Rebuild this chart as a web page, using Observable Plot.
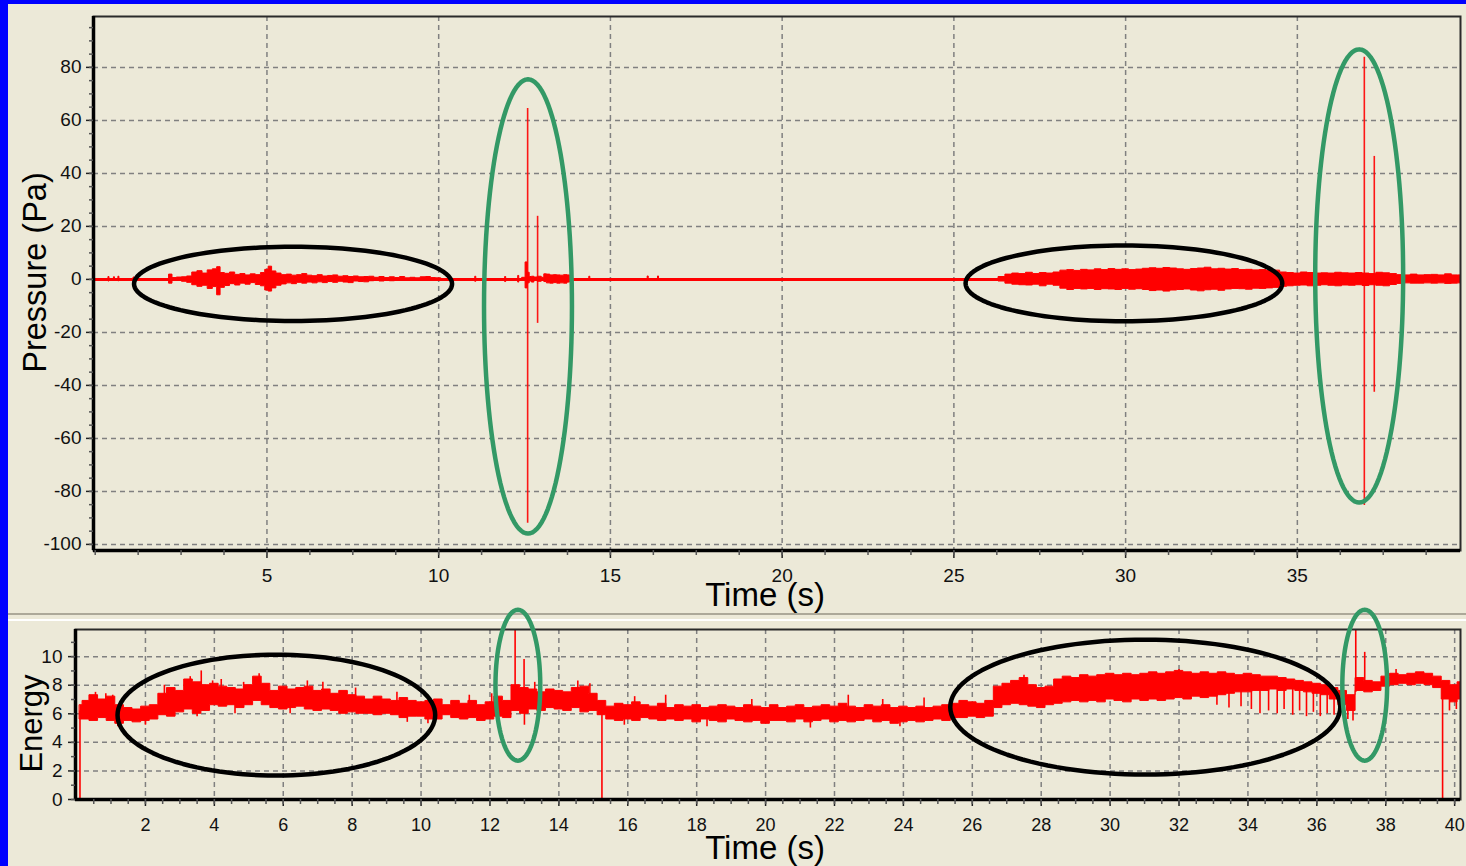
<!DOCTYPE html>
<html><head><meta charset="utf-8">
<script src="https://cdn.jsdelivr.net/npm/d3@7"></script>
<script src="https://cdn.jsdelivr.net/npm/@observablehq/plot@0.6"></script>
<style>
html,body{margin:0;padding:0;background:#0000ff;}
#page{position:relative;width:1466px;height:866px;background:#0000ff;overflow:hidden;font-family:"Liberation Sans",Arial,sans-serif;}
#panel{position:absolute;left:8px;top:4px;right:0;bottom:0;background:#ece9d8;}
#sep1{position:absolute;left:8px;right:0;top:613px;height:2px;background:#aca899;}
#sep2{position:absolute;left:8px;right:0;top:619px;height:2px;background:#ffffff;}
#c1{position:absolute;left:0;top:0;}
#c2{position:absolute;left:0;top:600px;}
</style></head>
<body><div id="page"><div id="panel"></div><div id="sep1"></div><div id="sep2"></div><div id="c1"></div><div id="c2"></div></div>
<script>
// ---------- Top panel: Pressure (Pa) ----------
const topXTicks = [5, 10, 15, 20, 25, 30, 35];
const topYTicks = [-100, -80, -60, -40, -20, 0, 20, 40, 60, 80];
const topXDomain = [-0.05, 39.75];
const topYDomain = [-102.3, 99.2];

// noise envelope of the pressure trace
const pTime = [0, 0.37, 0.4, 0.43, 0.53, 0.56, 0.59, 0.66, 0.69, 0.72, 1.1, 1.13, 1.16,
  2.1, 2.2, 2.3, 2.45, 2.6, 2.75, 2.9, 3.05, 3.2, 3.35, 3.5, 3.6, 3.7, 3.85, 4.0, 4.15, 4.3, 4.45, 4.6, 4.75, 4.9, 5.0, 5.1, 5.2, 5.35, 5.5, 5.65, 5.8, 5.95, 6.1, 6.25, 6.4, 6.55, 6.7, 6.85, 7.0, 7.15, 7.3, 7.45, 7.6, 7.75, 7.9, 8.05, 8.2, 8.35, 8.5, 8.65, 8.8, 8.95, 9.1, 9.25, 9.4, 9.55, 9.7, 9.85, 10.0, 10.15,
  11.05, 11.08, 11.11, 11.92, 11.95, 11.98, 12.3, 12.33, 12.36,
  12.5, 12.56, 12.62, 12.68, 12.75, 12.82, 12.95, 13.05, 13.1, 13.2, 13.3, 13.4, 13.5, 13.6, 13.7, 13.8, 13.85,
  14.37, 14.4, 14.43, 16.07, 16.1, 16.13, 16.37, 16.4, 16.43,
  26.2, 26.4, 26.6, 26.8, 27.0, 27.2, 27.4, 27.6, 27.8, 28.0, 28.2, 28.4, 28.6, 28.8, 29.0, 29.2, 29.4, 29.6, 29.8, 30.0, 30.2, 30.4, 30.6, 30.8, 31.0, 31.2, 31.4, 31.6, 31.8, 32.0, 32.2, 32.4, 32.6, 32.8, 33.0, 33.2, 33.4, 33.6, 33.8, 34.0, 34.2, 34.4, 34.6, 34.8, 35.0, 35.2, 35.4, 35.6, 35.8, 36.0, 36.2, 36.4, 36.6, 36.8, 37.0, 37.2, 37.4, 37.6, 37.8, 38.0, 38.2, 38.4, 38.6, 38.8, 39.0, 39.2, 39.4, 39.6, 39.75];
const pLow = [0, 0, -0.8, 0, 0, -0.6, 0, 0, -0.7, 0, 0, -0.5, 0,
  0, -1.6, -0.6, -0.5, -0.9, -1.3, -2.2, -2.8, -2.4, -3.6, -2.9, -6.0, -3.2, -2.5, -1.8, -2.3, -1.6, -2.0, -1.4, -2.1, -2.6, -4.2, -4.6, -3.4, -2.4, -1.9, -1.5, -1.8, -1.3, -1.6, -1.2, -1.5, -1.1, -1.4, -1.0, -1.3, -0.9, -1.2, -1.4, -0.8, -1.0, -1.1, -0.7, -0.6, -0.8, -0.5, -0.7, -0.4, -0.5, -0.4, -0.5, -0.3, -0.6, -0.4, -0.5, -0.3, 0,
  0, -0.9, 0, 0, -1.0, 0, 0, -1.2, 0,
  -0.5, -3.4, -1.5, -0.8, -1.2, -0.6, -0.9, -0.5, -1.0, -1.5, -1.6, -1.4, -1.6, -1.5, -1.6, -1.2, 0,
  0, 0, 0, 0, 0, 0, 0, 0, 0,
  0, -0.8, -1.6, -2.0, -2.2, -2.3, -2.0, -2.6, -2.0, -2.4, -3.5, -4.0, -3.6, -3.8, -3.6, -4.0, -3.7, -3.8, -4.0, -3.6, -3.9, -3.7, -4.0, -4.4, -4.2, -4.6, -4.2, -4.0, -3.8, -4.2, -4.5, -4.1, -3.9, -4.3, -3.8, -3.6, -3.7, -3.9, -3.5, -3.6, -3.4, -3.2, -2.8, -2.6, -2.4, -2.3, -2.6, -2.4, -2.2, -2.4, -2.6, -2.3, -2.4, -2.2, -2.5, -2.2, -2.4, -2.6, -2.1, -1.7, -1.5, -1.6, -1.6, -1.5, -1.6, -1.5, -1.7, -1.6, -1.5];
const pHigh = [0, 0, 0.9, 0, 0, 0.8, 0, 0, 1.0, 0, 0, 0.7, 0,
  0, 1.8, 0.5, 0.7, 0.8, 1.1, 2.6, 3.1, 2.2, 3.4, 3.8, 4.6, 2.4, 2.1, 2.6, 1.7, 2.0, 1.5, 1.9, 1.6, 2.4, 3.6, 4.8, 3.0, 2.2, 1.6, 1.8, 1.4, 1.6, 2.0, 1.4, 1.2, 1.6, 1.1, 1.3, 1.5, 1.0, 1.2, 0.9, 1.1, 0.8, 0.9, 1.0, 0.6, 0.9, 0.5, 0.8, 0.5, 0.9, 0.4, 0.6, 0.4, 0.8, 0.9, 0.5, 0.4, 0,
  0, 1.0, 0, 0, 0.9, 0, 0, 1.3, 0,
  0.6, 6.4, 2.5, 0.9, 1.0, 0.7, 1.0, 0.6, 1.9, 1.8, 1.5, 1.6, 1.5, 1.4, 1.6, 1.5, 0,
  0, 1.0, 0, 0, 1.1, 0, 0, 1.1, 0,
  0, 0.9, 1.8, 2.2, 2.0, 2.5, 2.0, 2.4, 2.2, 2.6, 3.3, 3.5, 3.2, 3.6, 3.4, 3.8, 3.5, 3.9, 3.6, 3.8, 3.5, 3.7, 4.0, 4.2, 4.0, 4.3, 4.1, 3.8, 3.6, 3.9, 4.1, 4.4, 3.8, 4.0, 3.7, 3.9, 3.5, 3.6, 3.4, 3.5, 3.2, 3.3, 2.6, 2.4, 2.2, 2.6, 2.4, 2.2, 2.3, 2.2, 2.5, 2.3, 2.2, 2.4, 2.2, 2.0, 2.5, 2.3, 2.0, 1.6, 1.5, 1.8, 1.5, 1.6, 1.7, 1.5, 1.9, 1.5, 1.5];

// impulse spikes in the pressure trace
const pSpikeTime = [12.59, 12.88, 36.95, 37.24];
const pSpikeLow = [-92, -16.6, -85.3, -42.6];
const pSpikeHigh = [64.5, 23.8, 83.8, 46.4];

// annotation ellipses (data units: centre, radii)
const topEllCx = [5.76, 12.6, 29.95, 36.8];
const topEllCy = [-1.7, -10.2, -1.5, 1.3];
const topEllRx = [4.63, 1.28, 4.61, 1.28];
const topEllRy = [14.0, 85.7, 14.3, 85.5];
const topEllColor = ["#000000", "#339966", "#000000", "#339966"];

// ---------- Bottom panel: Energy ----------
const botXTicks = [2, 4, 6, 8, 10, 12, 14, 16, 18, 20, 22, 24, 26, 28, 30, 32, 34, 36, 38, 40];
const botYTicks = [0, 2, 4, 6, 8, 10];
const botXDomain = [-0.03, 40.17];
const botYDomain = [0, 11.9];

const eTime = [0.1, 0.25, 0.5, 0.75, 1.0, 1.25, 1.5, 1.75, 2.0, 2.25, 2.5, 2.75, 3.0, 3.25, 3.5, 3.75, 4.0, 4.25, 4.5, 4.75, 5.0, 5.25, 5.5, 5.75, 6.0, 6.25, 6.5, 6.75, 7.0, 7.25, 7.5, 7.75, 8.0, 8.25, 8.5, 8.75, 9.0, 9.25, 9.5, 9.75, 10.0, 10.25, 10.5, 10.75, 11.0, 11.25, 11.5, 11.75, 12.0, 12.25, 12.5, 12.75, 13.0, 13.25, 13.5, 13.75, 14.0, 14.25, 14.5, 14.75, 15.0, 15.25, 15.5, 15.75, 16.0, 16.25, 16.5, 16.75, 17.0, 17.25, 17.5, 17.75, 18.0, 18.25, 18.5, 18.75, 19.0, 19.25, 19.5, 19.75, 20.0, 20.25, 20.5, 20.75, 21.0, 21.25, 21.5, 21.75, 22.0, 22.25, 22.5, 22.75, 23.0, 23.25, 23.5, 23.75, 24.0, 24.25, 24.5, 24.75, 25.0, 25.25, 25.5, 25.75, 26.0, 26.25, 26.5, 26.75, 27.0, 27.25, 27.5, 27.75, 28.0, 28.25, 28.5, 28.75, 29.0, 29.25, 29.5, 29.75, 30.0, 30.25, 30.5, 30.75, 31.0, 31.25, 31.5, 31.75, 32.0, 32.25, 32.5, 32.75, 33.0, 33.25, 33.5, 33.75, 34.0, 34.25, 34.5, 34.75, 35.0, 35.25, 35.5, 35.75, 36.0, 36.25, 36.5, 36.75, 37.0, 37.25, 37.5, 37.75, 38.0, 38.25, 38.5, 38.75, 39.0, 39.25, 39.5, 39.75, 40.0, 40.17];
const eLow = [5.6, 5.6, 5.5, 5.7, 5.5, 5.3, 5.5, 5.4, 5.5, 5.6, 5.9, 5.8, 6.1, 6.3, 6.0, 6.2, 6.6, 6.5, 6.6, 6.4, 6.6, 6.9, 6.6, 6.4, 6.3, 6.4, 6.5, 6.3, 6.2, 6.3, 6.2, 6.0, 6.1, 6.0, 6.0, 5.9, 6.0, 5.9, 5.7, 5.8, 5.8, 5.6, 5.6, 5.9, 5.7, 5.6, 5.7, 5.5, 5.6, 5.8, 5.7, 6.2, 6.0, 6.3, 6.2, 6.4, 6.3, 6.2, 6.4, 6.1, 6.2, 5.9, 5.6, 5.5, 5.6, 5.5, 5.7, 5.6, 5.5, 5.6, 5.5, 5.6, 5.4, 5.6, 5.5, 5.4, 5.6, 5.5, 5.4, 5.5, 5.3, 5.5, 5.5, 5.4, 5.6, 5.4, 5.5, 5.6, 5.4, 5.5, 5.4, 5.5, 5.6, 5.4, 5.5, 5.3, 5.4, 5.5, 5.4, 5.5, 5.6, 5.5, 5.7, 5.7, 5.8, 5.7, 5.8, 6.4, 6.6, 6.7, 6.6, 6.5, 6.4, 6.6, 6.7, 6.8, 6.9, 6.8, 6.9, 6.8, 7.0, 6.9, 6.8, 7.0, 6.9, 7.0, 6.9, 7.0, 7.1, 7.0, 7.2, 7.1, 7.2, 7.3, 7.4, 7.5, 7.5, 7.6, 7.6, 7.7, 7.6, 7.7, 7.6, 7.5, 7.4, 7.3, 7.0, 6.6, 6.2, 7.6, 7.5, 7.6, 7.9, 8.0, 8.1, 8.0, 8.1, 8.0, 7.8, 7.0, 6.8, 7.0];
const eHigh = [6.6, 6.9, 7.3, 7.0, 7.2, 6.6, 6.4, 6.3, 6.5, 6.6, 7.4, 7.8, 7.6, 8.4, 8.2, 8.0, 8.1, 7.9, 7.8, 7.7, 8.0, 8.6, 8.1, 7.6, 7.9, 7.7, 7.8, 7.9, 7.6, 7.7, 7.4, 7.6, 7.3, 7.2, 7.0, 7.2, 7.0, 6.9, 7.1, 6.9, 6.8, 6.9, 7.0, 6.6, 6.9, 6.7, 6.9, 6.6, 6.8, 7.2, 6.9, 8.0, 7.8, 7.7, 7.5, 7.7, 7.6, 7.5, 7.8, 7.9, 7.4, 6.9, 6.5, 6.7, 6.6, 6.8, 6.6, 6.5, 6.7, 6.4, 6.6, 6.5, 6.6, 6.4, 6.5, 6.6, 6.5, 6.4, 6.6, 6.5, 6.4, 6.6, 6.4, 6.5, 6.6, 6.4, 6.5, 6.6, 6.5, 6.7, 6.5, 6.4, 6.6, 6.5, 6.6, 6.4, 6.5, 6.4, 6.5, 6.4, 6.5, 6.6, 6.7, 6.9, 6.8, 6.7, 6.9, 7.9, 8.1, 8.3, 8.5, 8.0, 7.8, 7.9, 8.4, 8.6, 8.5, 8.7, 8.6, 8.7, 8.8, 8.7, 8.8, 8.7, 8.8, 8.9, 8.8, 8.9, 9.0, 8.9, 8.8, 8.9, 8.8, 8.9, 8.8, 8.7, 8.8, 8.7, 8.6, 8.6, 8.5, 8.4, 8.3, 8.2, 8.1, 8.0, 7.8, 7.6, 7.3, 8.5, 8.3, 8.2, 8.6, 8.8, 8.7, 8.8, 8.9, 8.8, 8.6, 8.3, 8.0, 8.2];

// whiskers / outliers in the energy trace
const eSpikeTime = [0.1, 12.73, 12.99, 15.25, 37.13, 37.39, 39.65,
  0.55, 0.85, 1.05, 2.55, 3.3, 3.62, 3.95, 4.2, 4.85, 5.3, 6.7, 7.15, 8.1, 9.3, 11.4, 12.05, 13.3, 14.55, 14.9, 16.2, 17.1, 19.6, 22.4, 23.4, 24.6, 27.5, 32.0, 38.3,
  1.2, 2.0, 3.5, 4.6, 6.2, 9.6, 10.2, 13.0, 13.4, 15.9, 18.3, 21.3, 23.9, 33.1, 33.45, 33.8, 34.1, 34.35, 34.6, 34.85, 35.05, 35.3, 35.5, 35.7, 35.9, 36.1, 36.3, 36.5, 36.9, 37.05, 39.85, 40.05];
const eSpikeBase = [0, 7.0, 7.0, 6.5, 7.5, 8.0, 8.2,
  6.5, 6.5, 6.5, 7.0, 7.5, 7.5, 7.5, 7.5, 7.5, 7.8, 7.2, 7.0, 6.8, 6.5, 6.3, 6.3, 7.2, 7.3, 7.3, 6.2, 6.2, 6.2, 6.2, 6.2, 6.1, 7.8, 8.3, 8.5,
  6.0, 6.0, 6.6, 7.0, 7.0, 6.2, 6.2, 6.8, 6.8, 6.0, 6.0, 6.0, 6.0, 7.8, 7.8, 8.0, 8.0, 8.0, 8.0, 8.0, 8.0, 8.0, 8.0, 7.9, 7.8, 7.7, 7.6, 7.4, 7.0, 7.0, 7.5, 7.5];
const eSpikeTip = [6.2, 11.9, 9.8, 0, 11.9, 10.3, 0,
  7.5, 7.4, 7.3, 8.0, 8.6, 9.0, 8.3, 8.4, 8.2, 8.8, 8.3, 8.2, 7.8, 7.5, 7.3, 7.4, 8.2, 8.3, 8.1, 7.2, 7.3, 7.0, 7.3, 7.0, 7.1, 8.7, 9.1, 9.1,
  5.1, 5.2, 5.8, 6.0, 6.0, 5.4, 5.3, 5.2, 5.4, 5.2, 5.1, 5.0, 5.1, 6.6, 6.4, 6.5, 6.3, 6.0, 6.2, 6.0, 6.3, 5.9, 6.2, 5.8, 6.1, 5.8, 6.0, 5.9, 5.6, 5.5, 6.2, 6.3];

const botEllCx = [5.8, 12.81, 31.02, 37.39];
const botEllCy = [5.91, 8.0, 6.47, 8.0];
const botEllRx = [4.61, 0.65, 5.66, 0.65];
const botEllRy = [4.23, 5.28, 4.72, 5.28];
const botEllColor = ["#000000", "#339966", "#000000", "#339966"];

// ---------- helpers ----------
const RED = "#ff0000";
const GRID = {stroke: "#808080", strokeOpacity: 1, strokeWidth: 1.5, strokeDasharray: "5,4"};
const FONT = "'Liberation Sans', Arial, sans-serif";

function ellipseMarks(cx, cy, rx, ry, colors) {
  return cx.map((c, i) => {
    const pts = d3.range(0, 361, 3).map(a => ({
      x: c + rx[i] * Math.cos(a * Math.PI / 180),
      y: cy[i] + ry[i] * Math.sin(a * Math.PI / 180)
    }));
    return Plot.line(pts, {x: "x", y: "y", stroke: colors[i], strokeWidth: 4.5, curve: "linear"});
  });
}
const fmt = d => String(d);

// ---------- top chart ----------
const chart1 = Plot.plot({
  width: 1466, height: 610,
  marginLeft: 93, marginRight: 6, marginTop: 16, marginBottom: 60,
  style: {background: "transparent", overflow: "visible", fontFamily: FONT, fontSize: "19px", color: "#111"},
  x: {domain: topXDomain},
  y: {domain: topYDomain},
  marks: [
    Plot.gridX({ticks: topXTicks, ...GRID}),
    Plot.gridY({ticks: topYTicks, ...GRID}),
    Plot.ruleY([0], {stroke: RED, strokeWidth: 3}),
    Plot.areaY(pTime, {x: pTime, y1: pLow, y2: pHigh, fill: RED, stroke: RED, strokeWidth: 1, curve: "step"}),
    Plot.ruleX(pSpikeTime, {x: pSpikeTime, y1: pSpikeLow, y2: pSpikeHigh, stroke: RED, strokeWidth: 1.6, strokeOpacity: 0.9}),
    Plot.frame({stroke: "#2a2a2a", strokeWidth: 2}),
    Plot.ruleX([topXDomain[0]], {stroke: "#000", strokeWidth: 3.5}),
    Plot.ruleY([topYDomain[0]], {stroke: "#000", strokeWidth: 3.5}),
    Plot.axisX({ticks: topXTicks, tickSize: 8, tickPadding: 10, tickFormat: fmt, label: null, fontSize: 19, stroke: "#222", strokeWidth: 1.5}),
    Plot.axisX({ticks: d3.range(0, 39.8, 1.25), tickSize: 5, fill: "none", label: null, stroke: "#555", strokeWidth: 1.5}),
    Plot.axisY({ticks: topYTicks, tickSize: 7, tickPadding: 5, tickFormat: fmt, label: null, fontSize: 19, stroke: "#222", strokeWidth: 1.5}),
    Plot.axisY({ticks: d3.range(-100, 99, 5), tickSize: 4, fill: "none", label: null, stroke: "#555", strokeWidth: 1.5}),
    ...ellipseMarks(topEllCx, topEllCy, topEllRx, topEllRy, topEllColor),
    Plot.text(["Time (s)"], {frameAnchor: "bottom", dx: -12, dy: 45, fontSize: 33, lineAnchor: "middle", textAnchor: "middle", fill: "#000"}),
    Plot.text(["Pressure (Pa)"], {frameAnchor: "left", rotate: -90, dx: -58, dy: -11, fontSize: 32.5, lineAnchor: "middle", textAnchor: "middle", fill: "#000"})
  ]
});
document.getElementById("c1").appendChild(chart1);

// ---------- bottom chart ----------
const chart2 = Plot.plot({
  width: 1466, height: 266,
  marginLeft: 75, marginRight: 6, marginTop: 29, marginBottom: 67,
  style: {background: "transparent", overflow: "visible", fontFamily: FONT, fontSize: "18px", color: "#111"},
  x: {domain: botXDomain},
  y: {domain: botYDomain},
  marks: [
    Plot.gridX({ticks: botXTicks, ...GRID}),
    Plot.gridY({ticks: botYTicks, ...GRID}),
    Plot.areaY(eTime, {x: eTime, y1: eLow, y2: eHigh, fill: RED, stroke: RED, strokeWidth: 1, curve: "step"}),
    Plot.ruleX(eSpikeTime, {x: eSpikeTime, y1: eSpikeBase, y2: eSpikeTip, stroke: RED, strokeWidth: 1.6}),
    Plot.frame({stroke: "#2a2a2a", strokeWidth: 2}),
    Plot.ruleX([botXDomain[0]], {stroke: "#000", strokeWidth: 3.5}),
    Plot.ruleY([botYDomain[0]], {stroke: "#000", strokeWidth: 3.5}),
    Plot.axisX({ticks: botXTicks, tickSize: 7, tickPadding: 12, tickFormat: fmt, label: null, fontSize: 18, stroke: "#222", strokeWidth: 1.5}),
    Plot.axisX({ticks: d3.range(0.5, 40.2, 0.5), tickSize: 5, fill: "none", label: null, stroke: "#555", strokeWidth: 1.5}),
    Plot.axisY({ticks: botYTicks, tickSize: 7, tickPadding: 6, tickFormat: fmt, label: null, fontSize: 19, stroke: "#222", strokeWidth: 1.5}),
    Plot.axisY({ticks: d3.range(0, 12, 1), tickSize: 4, fill: "none", label: null, stroke: "#555", strokeWidth: 1.5}),
    ...ellipseMarks(botEllCx, botEllCy, botEllRx, botEllRy, botEllColor),
    Plot.text(["Time (s)"], {frameAnchor: "bottom", dx: -3, dy: 49, fontSize: 33, lineAnchor: "middle", textAnchor: "middle", fill: "#000"}),
    Plot.text(["Energy"], {frameAnchor: "left", rotate: -90, dx: -43, dy: 9, fontSize: 31, lineAnchor: "middle", textAnchor: "middle", fill: "#000"})
  ]
});
document.getElementById("c2").appendChild(chart2);
</script></body></html>
